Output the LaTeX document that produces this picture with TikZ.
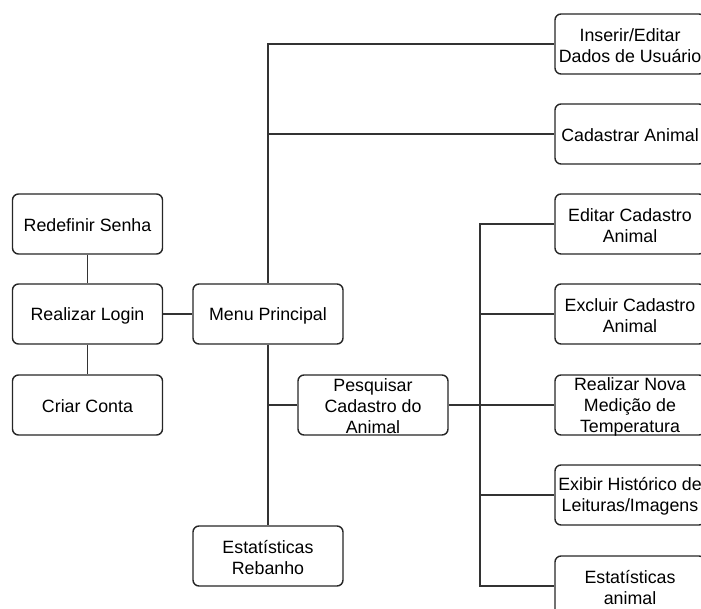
\documentclass[tikz,border=0pt]{standalone}
\usepackage{fontspec}
\setmainfont{Liberation Sans}
\begin{document}
\begin{tikzpicture}[x=1pt,y=-1pt,
  box/.style={draw=black!85,line width=1.4pt,rounded corners=6pt,minimum width=150pt,minimum height=60pt,inner sep=0pt,fill=white},
  txt/.style={align=center,inner sep=0pt,yshift=-1.5pt,font=\fontsize{17.8}{21}\selectfont},
  conn/.style={draw=black!80,line width=1.5pt}]
\useasboundingbox (0,0) rectangle (701,609);
\clip (0,0) rectangle (701,609);
% boxes
\node[box] (rs) at (87.5,224) {};
\node[box] (rl) at (87.5,314) {};
\node[box] (cc) at (87.5,405) {};
\node[box] (mp) at (268,314) {};
\node[box] (pc) at (373,405) {};
\node[box] (er) at (268,556) {};
\node[box] (ie) at (630,44) {};
\node[box] (ca) at (630,134) {};
\node[box] (ec) at (630,224) {};
\node[box] (xc) at (630,314) {};
\node[box] (rn) at (630,405) {};
\node[box] (eh) at (630,495) {};
\node[box] (ea) at (630,586) {};
% texts
\node[txt] at (rs) {Redefinir Senha};
\node[txt] at (rl) {Realizar Login};
\node[txt] at (cc) {Criar Conta};
\node[txt] at (mp) {Menu Principal};
\node[txt] at (pc) {Pesquisar\\Cadastro do\\Animal};
\node[txt] at (er) {Estatísticas\\Rebanho};
\node[txt] at (ie) {Inserir/Editar\\Dados de Usuário};
\node[txt] at (ca) {Cadastrar Animal};
\node[txt] at (ec) {Editar Cadastro\\Animal};
\node[txt] at (xc) {Excluir Cadastro\\Animal};
\node[txt] at (rn) {Realizar Nova\\Medição de\\Temperatura};
\node[txt] at (eh) {Exibir Histórico de\\Leituras/Imagens};
\node[txt] at (ea) {Estatísticas\\animal};
% connectors
\draw[conn] (rs.south) -- (rl.north);
\draw[conn] (rl.south) -- (cc.north);
\draw[conn] (rl.east) -- (mp.west);
\draw[conn] (mp.north) |- (ie.west);
\draw[conn] (mp.north |- ca.west) -- (ca.west);
\draw[conn] (mp.south) -- (er.north);
\draw[conn] (pc.west) -- (pc.west -| mp.south);
\coordinate (t2) at (480,405);
\draw[conn] (pc.east) -- (rn.west);
\draw[conn] (ec.west) -| (t2) |- (ea.west);
\draw[conn] (t2 |- xc.west) -- (xc.west);
\draw[conn] (t2 |- eh.west) -- (eh.west);
\end{tikzpicture}
\end{document}
